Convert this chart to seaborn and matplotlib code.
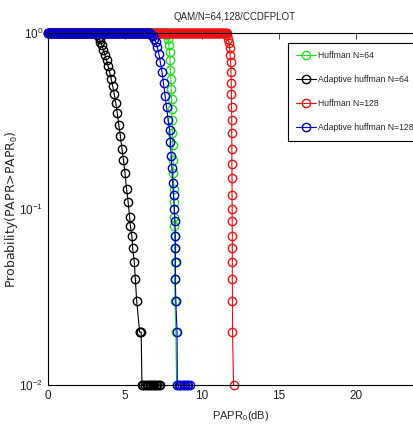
import numpy as np
import pandas as pd
import matplotlib
matplotlib.use("Agg")
import matplotlib.pyplot as plt
import seaborn as sns

sns.set_style("white")
plt.rcParams['font.family'] = ['Liberation Sans', 'DejaVu Sans']
plt.rcParams['mathtext.fontset'] = 'custom'
plt.rcParams['mathtext.rm'] = 'Liberation Sans'
plt.rcParams['mathtext.it'] = 'Liberation Sans'

# PAPR0 sampling grid (dB) of the flat part of the CCDF
grid = [round(v, 2) for v in np.arange(0, 12.0, 0.05)]

# ---- Huffman N=64 (green) ----
h64_x_desc = [7.75, 7.8, 7.85, 7.9, 7.92, 7.95, 7.98, 8.0, 8.02, 8.04, 8.06, 8.08, 8.1, 8.12,
              8.14, 8.16, 8.18, 8.2, 8.2, 8.22, 8.22, 8.23, 8.22, 8.25, 8.3, 8.35]
h64_p_desc = [0.97, 0.92, 0.85, 0.78, 0.70, 0.62, 0.55, 0.48, 0.42, 0.37, 0.32, 0.27, 0.23, 0.19,
              0.16, 0.13, 0.11, 0.09, 0.08, 0.07, 0.06, 0.05, 0.04, 0.03, 0.02, 0.01]
h64_flat_end = 7.7

# ---- Adaptive huffman N=64 (black) ----
a64_x_desc = [3.2, 3.3, 3.35, 3.4, 3.5, 3.6, 3.7, 3.8, 3.9, 4.0, 4.1, 4.2, 4.3, 4.4, 4.5, 4.6,
              4.7, 4.8, 4.9, 5.0, 5.1, 5.2, 5.3, 5.35, 5.45, 5.5, 5.6, 5.67, 5.76, 5.95, 6.0, 6.05,
              6.1, 6.2, 6.3, 6.4, 6.5, 6.6, 6.7, 6.8, 6.9, 7.0, 7.1, 7.2, 7.3]
a64_p_desc = [0.98, 0.95, 0.92, 0.89, 0.85, 0.80, 0.75, 0.70, 0.65, 0.60, 0.55, 0.50, 0.45, 0.40,
              0.35, 0.30, 0.26, 0.22, 0.19, 0.16, 0.13, 0.11, 0.09, 0.08, 0.07, 0.06, 0.05, 0.04,
              0.03, 0.02, 0.02, 0.02, 0.01, 0.01, 0.01, 0.01, 0.01, 0.01, 0.01, 0.01, 0.01, 0.01,
              0.01, 0.01, 0.01]
a64_flat_end = 3.1

# ---- Huffman N=128 (red) ----
h128_x_desc = [11.65, 11.7, 11.75, 11.8, 11.83, 11.86, 11.88, 11.9, 11.91, 11.92, 11.93, 11.93,
               11.94, 11.94, 11.95, 11.95, 11.96, 11.96, 11.97, 11.97, 11.97, 11.97, 11.98,
               11.98, 12.05]
h128_p_desc = [0.97, 0.93, 0.88, 0.82, 0.75, 0.68, 0.60, 0.52, 0.45, 0.38, 0.32, 0.27, 0.22,
               0.18, 0.15, 0.12, 0.10, 0.085, 0.07, 0.06, 0.05, 0.04, 0.03, 0.02, 0.01]
h128_flat_end = 11.6

# ---- Adaptive huffman N=128 (blue) ----
a128_x_desc = [6.7, 6.8, 6.9, 7.0, 7.1, 7.2, 7.3, 7.4, 7.5, 7.6, 7.7, 7.8, 7.9, 7.95, 8.0, 8.05,
               8.1, 8.15, 8.2, 8.25, 8.27, 8.27, 8.28, 8.27, 8.3, 8.38, 8.4, 8.5, 8.6, 8.7, 8.8,
               8.9, 9.0, 9.1, 9.2]
a128_p_desc = [0.98, 0.96, 0.93, 0.89, 0.83, 0.76, 0.68, 0.60, 0.52, 0.44, 0.38, 0.32, 0.28,
               0.24, 0.20, 0.17, 0.14, 0.12, 0.10, 0.085, 0.07, 0.06, 0.05, 0.04, 0.03, 0.02,
               0.01, 0.01, 0.01, 0.01, 0.01, 0.01, 0.01, 0.01, 0.01]
a128_flat_end = 6.6

labels = ["Huffman N=64", "Adaptive huffman N=64", "Huffman N=128", "Adaptive huffman N=128"]
colors = ["#22dd22", "#000000", "#ee1111", "#0000cc"]
xtick_vals = [0, 5, 10, 15, 20]

series = [
    (h64_flat_end, h64_x_desc, h64_p_desc),
    (a64_flat_end, a64_x_desc, a64_p_desc),
    (h128_flat_end, h128_x_desc, h128_p_desc),
    (a128_flat_end, a128_x_desc, a128_p_desc),
]

W, H = 413, 434
fig = plt.figure(figsize=(W / 100, H / 100), dpi=100)
left, right_px, top, bottom = 48, 433, 33, 385
ax = fig.add_axes([left / W, 1 - bottom / H, (right_px - left) / W, (bottom - top) / H])

for (fe, xd, pd_), lab, col in zip(series, labels, colors):
    flat = [g for g in grid if g <= fe + 1e-9]
    xs = flat + xd
    ps = [1.0] * len(flat) + pd_
    df = pd.DataFrame({"x": xs, "p": ps})
    sns.lineplot(data=df, x="x", y="p", ax=ax, estimator=None, sort=False, color=col,
                 marker="o", markersize=6, markerfacecolor="none", markeredgecolor=col,
                 markeredgewidth=1.0, linewidth=0.8, clip_on=False, label=lab)

ax.set_yscale("log")
ax.set_xlim(0, 25)
ax.set_ylim(0.01, 1)
ax.set_xticks(xtick_vals)
ax.tick_params(axis="both", which="both", direction="in", top=True, right=True,
               labelsize=8.5, length=4, width=0.6, colors="#222222")
ax.tick_params(axis="both", which="minor", length=2)
for s in ax.spines.values():
    s.set_color("black")
    s.set_linewidth(0.8)

ax.set_title("QAM/N=64,128/CCDFPLOT", fontsize=7, pad=9, x=0.485)
ax.set_xlabel("PAPR$_0$(dB)", fontsize=8, labelpad=5)
ax.set_ylabel("Probability(PAPR>PAPR$_0$)", fontsize=9, family=['DejaVu Sans'])
ax.yaxis.set_label_coords(-28 / (right_px - left), 0.5)

leg = ax.legend(loc="upper left",
                bbox_to_anchor=((288 - left) / (right_px - left), (bottom - 43) / (bottom - top)),
                borderaxespad=0, fancybox=False, edgecolor="black", framealpha=1,
                fontsize=6.2, numpoints=1, handlelength=2.3, handletextpad=0.2,
                labelspacing=1.75, borderpad=0.95)
leg.get_frame().set_linewidth(0.8)

fig.savefig("out.png", dpi=100)
